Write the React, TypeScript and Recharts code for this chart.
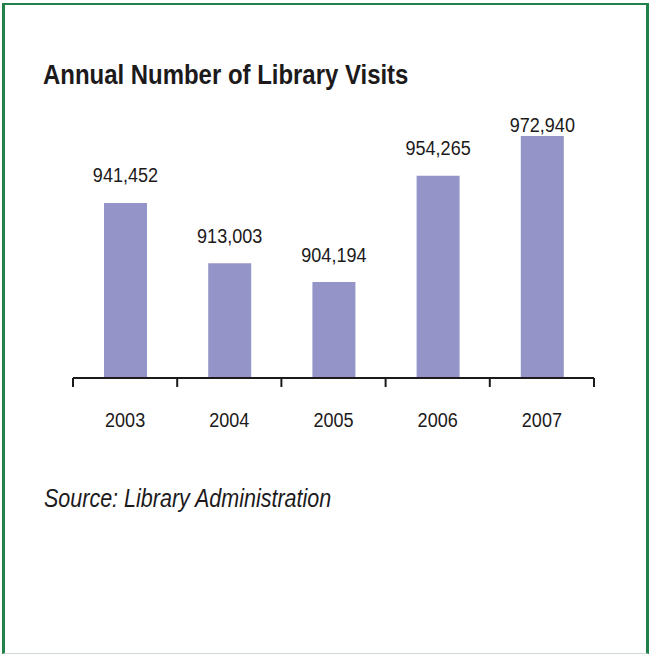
import React from "react";
import { BarChart, Bar, XAxis, YAxis, LabelList } from "recharts";

// data
const years = ["2003", "2004", "2005", "2006", "2007"];
const visits = [941452, 913003, 904194, 954265, 972940];

const data = years.map((year, i) => ({ year, visits: visits[i] }));

const CHART_W = 649;
const CHART_H = 460;
const MARGIN = { top: 117, right: 55, left: 73, bottom: 42 };
const PLOT_W = CHART_W - MARGIN.left - MARGIN.right;

// no condensed face installed, so squeeze the regular one
const FONT = "'Liberation Sans', Arial, sans-serif";
const SQUEEZE = 0.86;
const NUM_SIZE = 21;
const INK = "#1c1a1b";
const BAR = "#9494c8";
const GREEN = "#22804a";

const fmt = (v: number) => v.toLocaleString("en-US");

const YearTick = (props: any) => {
  const { x, y, payload, index } = props;
  const half = PLOT_W / years.length / 2;
  return (
    <g>
      <line x1={x - half} x2={x - half} y1={y} y2={y + 9} stroke={INK} strokeWidth={2} />
      {index === years.length - 1 && (
        <line x1={x + half} x2={x + half} y1={y} y2={y + 9} stroke={INK} strokeWidth={2} />
      )}
      <text
        transform={`translate(${x},${y + 48.7}) scale(${SQUEEZE},1)`}
        textAnchor="middle"
        fill={INK}
        fontSize={NUM_SIZE}
        fontFamily={FONT}
      >
        {payload.value}
      </text>
    </g>
  );
};

// value label above the bar, kept inside the plot area at the top
const ValueLabel = (props: any) => {
  const { x, y, width, value } = props;
  const baseline = Math.max(y - 20.5, MARGIN.top + 15);
  return (
    <text
      transform={`translate(${x + width / 2},${baseline}) scale(${SQUEEZE},1)`}
      textAnchor="middle"
      fill={INK}
      fontSize={NUM_SIZE}
      fontFamily={FONT}
    >
      {fmt(Number(value))}
    </text>
  );
};

export default function App() {
  return (
    <div style={{ position: "absolute", left: 0, top: 0, width: 649, height: 654, background: "#fff" }}>
      {/* frame */}
      <div
        style={{
          position: "absolute",
          left: 2,
          top: 3,
          width: 641,
          height: 648,
          borderTop: `2px solid ${GREEN}`,
          borderLeft: `3px solid ${GREEN}`,
          borderRight: `3px solid ${GREEN}`,
          borderBottom: "1px solid #cfd8d3",
        }}
      />
      <div
        style={{
          position: "absolute",
          left: 43,
          top: 60.6,
          fontFamily: FONT,
          fontWeight: "bold",
          fontSize: 28,
          lineHeight: "28px",
          color: INK,
          whiteSpace: "nowrap",
          transform: "scaleX(0.855)",
          transformOrigin: "left top",
        }}
      >
        Annual Number of Library Visits
      </div>
      <div style={{ position: "absolute", left: 0, top: 0 }}>
        <BarChart width={CHART_W} height={CHART_H} data={data} margin={MARGIN}>
          <YAxis hide type="number" domain={[859000, 981900]} allowDataOverflow />
          <XAxis
            dataKey="year"
            height={40}
            tickLine={false}
            tickSize={0}
            tickMargin={0}
            axisLine={{ stroke: INK, strokeWidth: 2 }}
            tick={<YearTick />}
            interval={0}
          />
          <Bar dataKey="visits" fill={BAR} barSize={43} isAnimationActive={false}>
            <LabelList dataKey="visits" content={<ValueLabel />} />
          </Bar>
        </BarChart>
      </div>
      <div
        style={{
          position: "absolute",
          left: 44,
          top: 485.5,
          fontFamily: FONT,
          fontStyle: "italic",
          fontSize: 25,
          lineHeight: "25px",
          color: INK,
          whiteSpace: "nowrap",
          transform: `scaleX(${SQUEEZE})`,
          transformOrigin: "left top",
        }}
      >
        Source: Library Administration
      </div>
    </div>
  );
}
